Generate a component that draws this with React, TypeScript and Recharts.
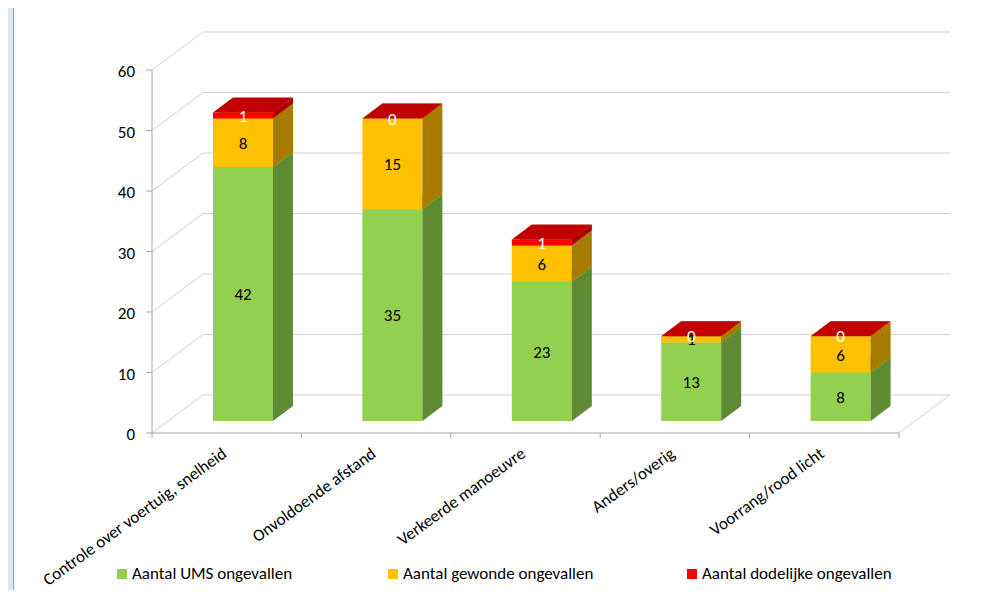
import React from 'react';
import { BarChart, Bar, XAxis, YAxis, CartesianGrid, LabelList, Legend, ReferenceArea } from 'recharts';

const categories = [
  'Controle over voertuig, snelheid',
  'Onvoldoende afstand',
  'Verkeerde manoeuvre',
  'Anders/overig',
  'Voorrang/rood licht',
];
const umsValues = [42, 35, 23, 13, 8];
const gewondeValues = [8, 15, 6, 1, 6];
const dodelijkeValues = [1, 0, 1, 0, 0];
const yTicks = [0, 10, 20, 30, 40, 50, 60];
const seriesNames = ['Aantal UMS ongevallen', 'Aantal gewonde ongevallen', 'Aantal dodelijke ongevallen'];

const data = categories.map((name, i) => ({
  name,
  ums: umsValues[i],
  gewonde: gewondeValues[i],
  dodelijk: dodelijkeValues[i],
}));

const FONT = 'Carlito, Calibri, Lato, sans-serif';
const FONT_SIZE = 17;
const AXIS = '#a6a6a6';
const GRID = '#d0d0d0';
const FRONT = { dx: -16, dy: 12 };
const BACK = { dx: 35, dy: -26 };
const DEPTH = { dx: 20, dy: -15 };

const COLORS = [
  { front: '#92d050', side: '#5f8b34', top: '#76b03c', label: '#000000' },
  { front: '#ffc000', side: '#a67c00', top: '#d9a300', label: '#000000' },
  { front: '#ff0000', side: '#a60000', top: '#c00000', label: '#ffffff' },
];
const LEGEND_COLORS = ['#92d050', '#ffc000', '#ff0000'];
const LEGEND_LEFT = [117, 388, 687];

const make3D = (c: any) => (props: any) => {
  const { x, y, width, height } = props;
  if (x == null || y == null) return <g />;
  const h = Math.max(0, height || 0);
  const r = x + width;
  return (
    <g>
      <rect x={x} y={y} width={width} height={h} fill={c.front} />
      <polygon
        points={`${r},${y} ${r + DEPTH.dx},${y + DEPTH.dy} ${r + DEPTH.dx},${y + h + DEPTH.dy} ${r},${y + h}`}
        fill={c.side}
      />
      <polygon
        points={`${x},${y} ${x + DEPTH.dx},${y + DEPTH.dy} ${r + DEPTH.dx},${y + DEPTH.dy} ${r},${y}`}
        fill={c.top}
      />
    </g>
  );
};

const makeLabel = (color: string) => (props: any) => {
  const { x, y, width, height, value } = props;
  if (x == null) return null;
  return (
    <text
      x={x + width / 2}
      y={y + height / 2}
      dy="0.36em"
      textAnchor="middle"
      fill={color}
      fontFamily={FONT}
      fontSize={FONT_SIZE}
    >
      {value}
    </text>
  );
};

const GridLine = (props: any) => {
  const { x1, y1, x2 } = props;
  return (
    <g key={props.key}>
      <line x1={x1 + FRONT.dx} y1={y1 + FRONT.dy} x2={x1 + BACK.dx} y2={y1 + BACK.dy} stroke={GRID} strokeWidth={1} />
      <line x1={x1 + BACK.dx} y1={y1 + BACK.dy} x2={x2 + BACK.dx} y2={y1 + BACK.dy} stroke={GRID} strokeWidth={1} />
    </g>
  );
};

const Frame = (props: any) => {
  const { x, y, width, height } = props;
  const bottom = y + height;
  const fl = x + FRONT.dx;
  const fr = x + width + FRONT.dx;
  const fb = bottom + FRONT.dy;
  const ft = y + FRONT.dy;
  return (
    <g>
      <line x1={fl} y1={ft} x2={fl} y2={fb} stroke={AXIS} />
      <line x1={fl} y1={fb} x2={fr} y2={fb} stroke={AXIS} />
      <line x1={fr} y1={fb} x2={x + width + BACK.dx} y2={bottom + BACK.dy} stroke={GRID} />
    </g>
  );
};

const YTick = (props: any) => {
  const { x, y, payload } = props;
  const fx = x + FRONT.dx;
  const fy = y + FRONT.dy;
  return (
    <g>
      <line x1={fx - 6} y1={fy} x2={fx} y2={fy} stroke={AXIS} />
      <text x={fx - 17} y={fy + 7} textAnchor="end" fill="#000" fontFamily={FONT} fontSize={FONT_SIZE}>
        {payload.value}
      </text>
    </g>
  );
};

const XTick = (props: any) => {
  const { x, y, payload, index, width, visibleTicksCount } = props;
  const count = visibleTicksCount || categories.length;
  const band = width ? width / count : 149.4;
  const fx = x + FRONT.dx;
  const fy = y + FRONT.dy;
  const left = fx - band / 2;
  const right = fx + band / 2;
  return (
    <g>
      <line x1={left} y1={fy} x2={left} y2={fy + 5} stroke={AXIS} />
      {index === count - 1 && <line x1={right} y1={fy} x2={right} y2={fy + 5} stroke={AXIS} />}
      <text
        transform={`translate(${fx + 1},${fy + 23}) rotate(-36)`}
        textAnchor="end"
        fill="#000"
        fontFamily={FONT}
        fontSize={FONT_SIZE}
      >
        {payload.value}
      </text>
    </g>
  );
};

const LegendContent = () => (
  <div style={{ position: 'relative', width: 984, height: 24, fontFamily: FONT, fontSize: FONT_SIZE }}>
    {seriesNames.map((n, i) => (
      <div key={n} style={{ position: 'absolute', left: LEGEND_LEFT[i], top: 0, display: 'flex', alignItems: 'center', whiteSpace: 'nowrap' }}>
        <span style={{ display: 'inline-block', width: 10, height: 10, background: LEGEND_COLORS[i], marginRight: 5 }} />
        <span style={{ color: '#000' }}>{n}</span>
      </div>
    ))}
  </div>
);

export default function App() {
  return (
    <div style={{ position: 'relative', margin: -8, width: 984, height: 598, background: '#dce6f1', overflow: 'hidden' }}>
      <div
        style={{
          position: 'absolute',
          left: 13,
          top: 6,
          width: 968,
          height: 600,
          background: '#ffffff',
          borderTop: '1px solid #9aa5b1',
          borderLeft: '1px solid #9aa5b1',
          borderRight: '1px solid #c8d0d8',
        }}
      />
      <div style={{ position: 'absolute', left: 0, top: 0 }}>
        <BarChart
          width={984}
          height={598}
          data={data}
          margin={{ top: 58, right: 69, bottom: 123, left: 108 }}
          barSize={60}
        >
          <CartesianGrid vertical={false} horizontal={GridLine as any} stroke={GRID} />
          <ReferenceArea y1={0} y2={60} shape={Frame as any} fill="none" stroke="none" />
          <XAxis
            dataKey="name"
            height={30}
            axisLine={false}
            tickLine={false}
            tickSize={0}
            tickMargin={0}
            interval={0}
            tick={XTick as any}
          />
          <YAxis
            width={60}
            domain={[0, 60]}
            ticks={yTicks}
            axisLine={false}
            tickLine={false}
            tickSize={0}
            tickMargin={0}
            tick={YTick as any}
          />
          <Bar dataKey="ums" name={seriesNames[0]} stackId="a" isAnimationActive={false} shape={make3D(COLORS[0]) as any}>
            <LabelList dataKey="ums" content={makeLabel(COLORS[0].label) as any} />
          </Bar>
          <Bar dataKey="gewonde" name={seriesNames[1]} stackId="a" isAnimationActive={false} shape={make3D(COLORS[1]) as any}>
            <LabelList dataKey="gewonde" content={makeLabel(COLORS[1].label) as any} />
          </Bar>
          <Bar dataKey="dodelijk" name={seriesNames[2]} stackId="a" isAnimationActive={false} shape={make3D(COLORS[2]) as any}>
            <LabelList dataKey="dodelijk" content={makeLabel(COLORS[2].label) as any} />
          </Bar>
          <Legend
            content={LegendContent as any}
            wrapperStyle={{ position: 'absolute', left: 0, top: 563, width: 984, height: 24 }}
          />
        </BarChart>
      </div>
    </div>
  );
}
